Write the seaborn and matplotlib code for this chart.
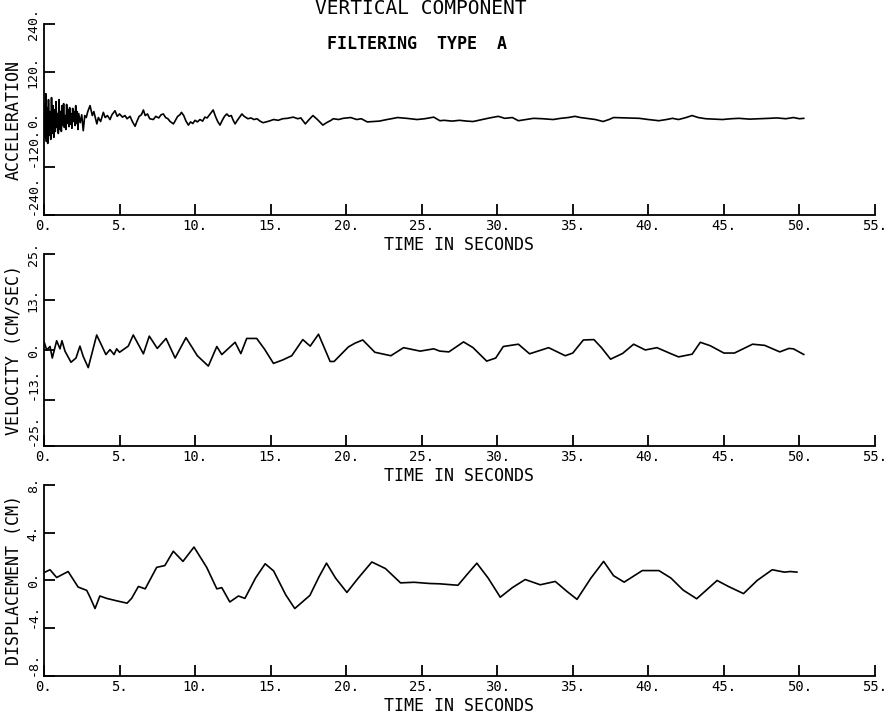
import numpy as np
import pandas as pd
import matplotlib
matplotlib.use("Agg")
import matplotlib.pyplot as plt
import seaborn as sns

# ---------------- data ----------------
time_ticks = [0, 5, 10, 15, 20, 25, 30, 35, 40, 45, 50, 55]
time_tick_labels = ["0.", "5.", "10.", "15.", "20.", "25.", "30.", "35.", "40.", "45.", "50.", "55."]

acc_ticks = [-240, -120, 0, 120, 240]
acc_tick_labels = ["-240.", "-120.", "0.", "120.", "240."]
vel_ticks = [-25, -13, 0, 13, 25]
vel_tick_labels = ["-25.", "-13.", "0.", "13.", "25."]
dis_ticks = [-8, -4, 0, 4, 8]
dis_tick_labels = ["-8.", "-4.", "0.", "4.", "8."]

acc_t = [0.0, 0.04, 0.08, 0.12, 0.16, 0.2, 0.25, 0.3, 0.35, 0.4, 0.45, 0.5, 0.55, 0.6,
         0.65, 0.7, 0.75, 0.8, 0.85, 0.9, 0.95, 1.0, 1.05, 1.1, 1.15, 1.2, 1.25, 1.3,
         1.35, 1.4, 1.45, 1.5, 1.55, 1.6, 1.65, 1.7, 1.75, 1.8, 1.85, 1.9, 1.95, 2.0,
         2.05, 2.1, 2.15, 2.2, 2.25, 2.3, 2.4, 2.5, 2.6, 2.7, 2.8, 2.9,
         3.05, 3.2, 3.3, 3.5, 3.6, 3.75, 3.93, 4.05, 4.2, 4.37, 4.5, 4.7, 4.85, 5.0,
         5.2, 5.36, 5.5, 5.7, 5.85, 6.03, 6.15, 6.3, 6.45, 6.58, 6.7, 6.85, 7.0, 7.24,
         7.4, 7.6, 7.75, 7.9, 8.05, 8.2, 8.35, 8.57, 8.7, 8.85, 9.0, 9.1, 9.25, 9.4,
         9.56, 9.7, 9.85, 10.0, 10.15, 10.33, 10.5, 10.65, 10.8, 11.0, 11.2, 11.35,
         11.5, 11.65, 11.8, 11.95, 12.1, 12.25, 12.4, 12.5, 12.65, 12.8, 12.95, 13.1,
         13.25, 13.5, 13.7, 13.9, 14.1, 14.3, 14.5, 14.7, 14.9, 15.2, 15.5, 15.8, 16.1,
         16.5, 16.8, 17.0, 17.3, 17.55, 17.8, 18.1, 18.46, 18.7, 19.0, 19.15, 19.5,
         19.8, 20.3, 20.7, 21.0, 21.4, 21.8, 22.2, 22.7, 23.0, 23.4, 24.0, 24.7, 25.2,
         25.8, 26.2, 26.5, 27.0, 27.5, 28.0, 28.4, 29.0, 29.5, 30.07, 30.5, 31.0, 31.4,
         31.9, 32.4, 33.0, 33.7, 34.2, 34.7, 35.15, 35.5, 35.9, 36.5, 37.0, 37.4, 37.7,
         38.5, 39.4, 40.0, 40.7, 41.2, 41.6, 42.0, 42.5, 42.9, 43.3, 43.8, 44.3, 44.9,
         45.5, 46.0, 46.7, 47.4, 48.0, 48.5, 49.1, 49.6, 50.0, 50.3]
acc_v = [0, 40, -45, 65, -55, 30, -60, 50, -40, 20, -50, 55, -35, 35,
         -45, 25, -30, 45, -20, 15, -35, 50, -25, 20, -30, 35, -15, 40,
         -20, 10, -25, 38, -10, 25, -18, 30, -12, 15, -22, 28, -5, 20,
         -15, 35, -10, 20, -25, 15, -8, 12, -28, 10, 5, 20,
         35, 10, 20, -11, 5, -5, 18, 5, 10, 0, 12, 22, 8, 14,
         6, 10, 2, 8, -5, -17, -5, 8, 12, 24, 10, 14, 2, 0,
         8, 4, 12, 14, 5, 2, -5, -11, -2, 8, 12, 18, 10, -4,
         -14, -6, -10, -2, -6, 0, -4, 6, 4, 14, 24, 8,
         -5, -14, -2, 8, 14, 8, 10, 0, -11, -2, 6, 14,
         8, 2, 4, 0, 2, -4, -8, -6, -4, 0, -2, 2, 3,
         6, 2, 4, -11, 0, 10, 0, -14, -8, -2, 2, 0,
         3, 5, 0, 2, -6, -5, -4, 0, 2, 5, 3, 0, 2,
         6, -3, -2, -4, -2, -4, -5, 0, 4, 8, 3, 5, -3,
         0, 3, 2, 0, 3, 5, 8, 5, 3, 0, -5, 0, 5,
         4, 3, 0, -3, 0, 3, 0, 5, 10, 5, 2, 1, 0,
         2, 3, 1, 2, 3, 4, 2, 5, 2, 3]

vel_t = [0.02, 0.18, 0.4, 0.55, 0.84, 1.06, 1.19, 1.39, 1.79, 2.12, 2.38, 2.6, 2.93,
         3.49, 4.1, 4.37, 4.64, 4.81, 5.0, 5.58, 5.91, 6.58, 6.97, 7.5, 8.08, 8.68,
         9.4, 10.15, 10.88, 11.44, 11.77, 12.65, 13.03, 13.42, 14.08, 14.6, 15.19,
         15.8, 16.4, 17.13, 17.62, 18.17, 18.94, 19.2, 20.15, 20.6, 21.1, 21.9, 22.96,
         23.8, 24.9, 25.8, 26.2, 26.8, 27.77, 28.4, 29.3, 29.9, 30.4, 31.4, 32.14,
         33.4, 34.5, 35.0, 35.7, 36.4, 36.9, 37.5, 38.3, 39.03, 39.8, 40.57, 41.45,
         42.0, 42.9, 43.44, 44.1, 45.0, 45.7, 46.9, 47.7, 48.7, 49.3, 49.6, 50.3]
vel_v = [2.0, 0.0, 0.9, -2.1, 2.4, 0.3, 2.4, -0.3, -3.2, -2.1, 1.0, -1.7, -4.6,
         3.9, -1.2, 0.1, -1.2, 0.3, -0.6, 1.0, 3.9, -1.0, 3.6, 0.4, 3.0, -2.1,
         3.2, -1.5, -4.2, 0.9, -1.2, 2.0, -0.95, 3.0, 3.0, 0.2, -3.5,
         -2.6, -1.5, 2.7, 1.0, 4.1, -3.0, -3.0, 0.8, 1.8, 2.6, -0.6, -1.5,
         0.6, -0.3, 0.3, -0.3, -0.5, 2.1, 0.6, -2.9, -2.1, 0.9, 1.5, -1.0,
         0.6, -1.5, -0.8, 2.6, 2.7, 0.6, -2.4, -0.9, 1.5, 0.0, 0.6, -0.9,
         -1.8, -1.1, 2.0, 1.1, -0.8, -0.8, 1.5, 1.2, -0.5, 0.4, 0.3, -1.2]

dis_t = [0.07, 0.4, 0.84, 1.6, 2.26, 2.83, 3.05, 3.38, 3.7, 4.15, 4.8, 5.5, 5.8, 6.25,
         6.7, 7.46, 8.0, 8.56, 9.2, 9.93, 10.77, 11.44, 11.77, 12.3, 12.87, 13.3, 14.0,
         14.64, 15.2, 16.0, 16.6, 17.6, 18.2, 18.7, 19.3, 20.05, 20.8, 21.7, 22.6,
         23.6, 24.5, 25.5, 26.2, 27.4, 28.0, 28.65, 29.4, 30.2, 31.0, 31.85, 32.85,
         33.84, 34.6, 35.28, 36.2, 37.04, 37.7, 38.4, 39.6, 40.7, 41.5, 42.3, 43.2,
         44.55, 45.3, 46.3, 47.2, 48.2, 49.0, 49.4, 49.85]
dis_v = [0.7, 0.9, 0.25, 0.75, -0.55, -0.83, -1.4, -2.35, -1.3, -1.5, -1.7, -1.9, -1.5, -0.5,
         -0.7, 1.1, 1.25, 2.45, 1.6, 2.8, 1.1, -0.7, -0.6, -1.8, -1.3, -1.5, 0.2,
         1.4, 0.8, -1.2, -2.35, -1.25, 0.3, 1.45, 0.2, -1.0, 0.2, 1.55, 1.0,
         -0.2, -0.15, -0.25, -0.28, -0.4, 0.5, 1.45, 0.2, -1.4, -0.6, 0.08, -0.36,
         -0.08, -0.9, -1.58, 0.2, 1.6, 0.4, -0.14, 0.83, 0.83, 0.2, -0.8, -1.53,
         0.0, -0.5, -1.1, 0.0, 0.9, 0.7, 0.75, 0.7]

panels = [
    ("ACCELERATION", acc_t, acc_v, acc_ticks, acc_tick_labels),
    ("VELOCITY (CM/SEC)", vel_t, vel_v, vel_ticks, vel_tick_labels),
    ("DISPLACEMENT (CM)", dis_t, dis_v, dis_ticks, dis_tick_labels),
]

# ---------------- style ----------------
sns.set_theme(style="ticks")
plt.rcParams['font.family'] = ['DejaVu Sans Mono', 'DejaVu Sans']
plt.rcParams['text.color'] = 'black'
plt.rcParams['axes.labelcolor'] = 'black'

fig = plt.figure(figsize=(8.9, 7.17), dpi=100)
fig.patch.set_facecolor('white')

rects = [(0.0494, 0.7001, 0.9337, 0.2664),
         (0.0494, 0.3780, 0.9337, 0.2678),
         (0.0494, 0.0572, 0.9337, 0.2664)]

for rect, (ylabel, t, v, yt, ytl) in zip(rects, panels):
    ax = fig.add_axes(rect)
    ax.set_facecolor('white')
    df = pd.DataFrame({"time": t, "value": v})
    sns.lineplot(data=df, x="time", y="value", ax=ax, color="black",
                 linewidth=1.2, estimator=None, sort=True)
    ax.set_xlim(0, 55)
    ax.set_ylim(yt[0], yt[-1])
    ax.set_xticks(time_ticks)
    ax.set_xticklabels(time_tick_labels, fontsize=10)
    ax.set_yticks(yt)
    ax.set_yticklabels(ytl, fontsize=9.5, rotation=90)
    for i, lab in enumerate(ax.get_yticklabels()):
        lab.set_va('bottom' if i < 2 else 'center')
    sns.despine(ax=ax)
    for s in ("left", "bottom"):
        ax.spines[s].set_linewidth(1.3)
        ax.spines[s].set_color("black")
    ax.tick_params(axis="both", direction="in", length=8, width=1.3,
                   colors="black", labelcolor="black")
    ax.tick_params(axis="x", pad=3)
    ax.tick_params(axis="y", pad=3)
    ax.set_xlabel("TIME IN SECONDS", fontsize=12, labelpad=2)
    ax.set_ylabel(ylabel, fontsize=12, labelpad=3)
    ax.grid(False)

fig.text(0.473, 0.981, "VERTICAL COMPONENT", fontsize=14, ha="center", va="baseline")
fig.text(0.468, 0.938, "FILTERING  TYPE  A", fontsize=12, fontweight="bold",
         ha="center", va="center")

fig.savefig("out.png", dpi=100, facecolor="white")
